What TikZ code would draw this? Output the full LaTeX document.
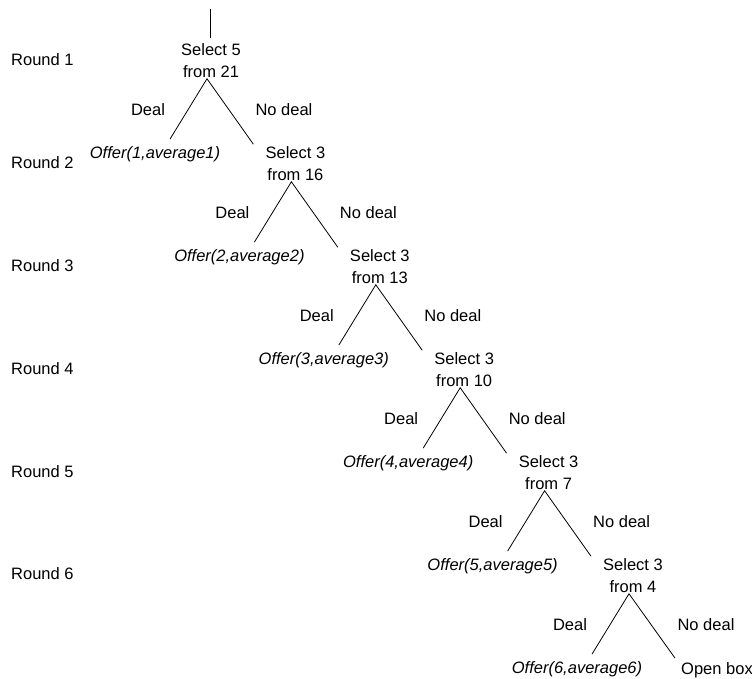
\documentclass[tikz,border=0pt]{standalone}
\usepackage{fontspec}
\setmainfont{Liberation Sans}
\usetikzlibrary{positioning}

\begin{document}
\begin{tikzpicture}[x=1pt, y=-1pt,
            every node/.style={font=\fontsize{16.5pt}{22pt}\selectfont, inner sep=1pt},
            select/.style={align=center},
            offer/.style={font=\fontsize{16.5pt}{22pt}\selectfont\itshape},
            round/.style={anchor=west},
            branch/.style={line width=0.8pt}]

            \useasboundingbox (0,0) rectangle (752,679);

            \node[round] (r1) at (10,60) {Round 1};
            \node[round] (r2) at (10,163) {Round 2};
            \node[round] (r3) at (10,266) {Round 3};
            \node[round] (r4) at (10,369) {Round 4};
            \node[round] (r5) at (10,472) {Round 5};
            \node[round] (r6) at (10,574) {Round 6};

            \coordinate (top) at (210,9);
            \node[select] (s1) at (211,60.5) {Select 5\\from 21};
            \node[select] (s2) at (295.4,163.5) {Select 3\\from 16};
            \node[select] (s3) at (379.8,266.5) {Select 3\\from 13};
            \node[select] (s4) at (464.2,369.5) {Select 3\\from 10};
            \node[select] (s5) at (548.6,472.5) {Select 3\\from 7};
            \node[select] (s6) at (633,575.5) {Select 3\\from 4};
            \node (ob) at (717,670) {Open box};

            \node[offer] (o1) at (155,154) {Offer(1,average1)};
            \node[offer] (o2) at (239.4,257) {Offer(2,average2)};
            \node[offer] (o3) at (323.8,360) {Offer(3,average3)};
            \node[offer] (o4) at (408.2,463) {Offer(4,average4)};
            \node[offer] (o5) at (492.6,566) {Offer(5,average5)};
            \node[offer] (o6) at (577,669) {Offer(6,average6)};

            \node (d1) at (148,110) {Deal};
            \node (d2) at (232.4,213) {Deal};
            \node (d3) at (316.8,316) {Deal};
            \node (d4) at (401.2,419) {Deal};
            \node (d5) at (485.6,522) {Deal};
            \node (d6) at (570,625) {Deal};

            \node (n1) at (284,110) {No deal};
            \node (n2) at (368.4,213) {No deal};
            \node (n3) at (452.8,316) {No deal};
            \node (n4) at (537.2,419) {No deal};
            \node (n5) at (621.6,522) {No deal};
            \node (n6) at (706,625) {No deal};

            \draw[branch] (top) -- ([xshift=-1pt,yshift=4pt]s1.north);

            \draw[branch] ([xshift=15pt,yshift=6pt]o1.north) -- ([xshift=-4pt]s1.south) -- ([xshift=-42pt,yshift=1pt]s2.north);
            \draw[branch] ([xshift=15pt,yshift=6pt]o2.north) -- ([xshift=-4pt]s2.south) -- ([xshift=-42pt,yshift=1pt]s3.north);
            \draw[branch] ([xshift=15pt,yshift=6pt]o3.north) -- ([xshift=-4pt]s3.south) -- ([xshift=-42pt,yshift=1pt]s4.north);
            \draw[branch] ([xshift=15pt,yshift=6pt]o4.north) -- ([xshift=-4pt]s4.south) -- ([xshift=-42pt,yshift=1pt]s5.north);
            \draw[branch] ([xshift=15pt,yshift=6pt]o5.north) -- ([xshift=-4pt]s5.south) -- ([xshift=-42pt,yshift=1pt]s6.north);
            \draw[branch] ([xshift=15pt,yshift=6pt]o6.north) -- ([xshift=-4pt]s6.south) -- ([xshift=-42pt,yshift=3pt]ob.north);
        \end{tikzpicture}
\end{document}
